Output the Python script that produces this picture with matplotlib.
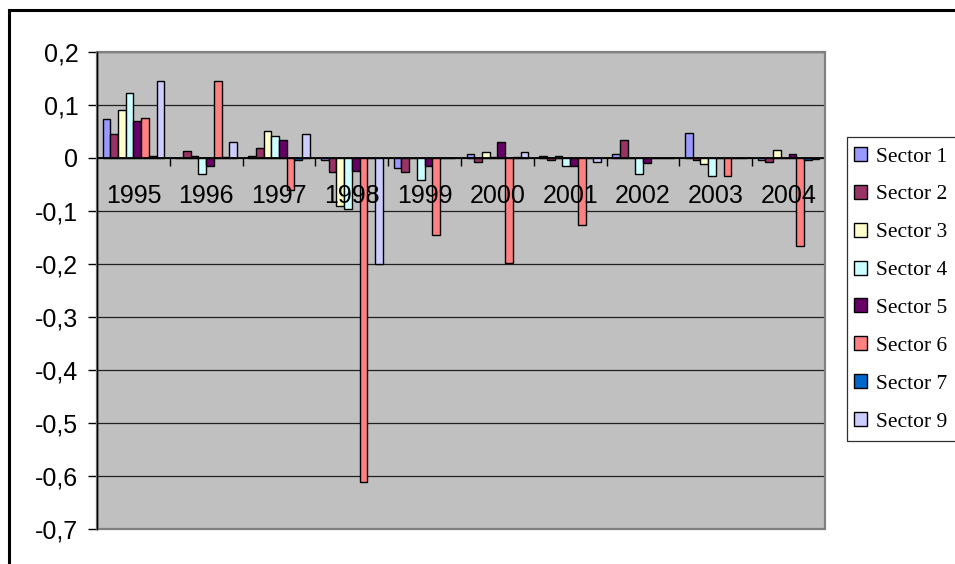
import matplotlib
matplotlib.use('Agg')
import matplotlib.pyplot as plt
import numpy as np
from matplotlib.patches import Rectangle
from matplotlib.font_manager import FontProperties

years = ['1995', '1996', '1997', '1998', '1999', '2000', '2001', '2002', '2003', '2004']
sector_names = ['Sector 1', 'Sector 2', 'Sector 3', 'Sector 4', 'Sector 5', 'Sector 6', 'Sector 7', 'Sector 9']

s1 = [0.073, 0.000, 0.004, -0.004, -0.019, 0.008, 0.004, 0.007, 0.048, -0.003]
s2 = [0.046, 0.013, 0.019, -0.026, -0.027, -0.008, -0.004, 0.034, -0.004, -0.008]
s3 = [0.091, 0.003, 0.050, -0.091, 0.000, 0.012, 0.004, 0.000, -0.011, 0.015]
s4 = [0.122, -0.031, 0.041, -0.096, -0.042, 0.002, -0.015, -0.031, -0.035, 0.000]
s5 = [0.069, -0.016, 0.034, -0.025, -0.015, 0.031, -0.015, -0.009, 0.000, 0.007]
s6 = [0.076, 0.145, -0.061, -0.611, -0.146, -0.199, -0.127, 0.000, -0.035, -0.167]
s7 = [0.004, 0.001, -0.003, 0.000, 0.000, 0.002, 0.000, 0.000, 0.000, -0.003]
s9 = [0.145, 0.031, 0.046, -0.200, 0.000, 0.012, -0.008, 0.000, 0.000, -0.002]

series = [s1, s2, s3, s4, s5, s6, s7, s9]
colors = ['#9999FF', '#993366', '#FFFFCC', '#CCFFFF', '#660066', '#FF8080', '#0066CC', '#CCCCFF']

yticks = [-0.7, -0.6, -0.5, -0.4, -0.3, -0.2, -0.1, 0.0, 0.1, 0.2]

W, H = 955, 564
fig = plt.figure(figsize=(W / 100, H / 100), dpi=100)
fig.patch.set_facecolor('white')

left, right, top, bottom = 97, 825, 52, 528.7
ax = fig.add_axes([left / W, 1 - bottom / H, (right - left) / W, (bottom - top) / H])
ax.set_facecolor('#C0C0C0')

x = np.arange(len(years))
bw = 0.106
handles = []
for j, (vals, c, name) in enumerate(zip(series, colors, sector_names)):
    b = ax.bar(x + (j - 3.5) * bw, vals, width=bw, color=c, edgecolor='black',
               linewidth=1.0, label=name, zorder=2)
    handles.append(b)

ax.set_xlim(-0.5, len(years) - 0.5)
ax.set_ylim(-0.7, 0.2)
ax.set_yticks(yticks)

def fmt(v):
    if abs(v) < 1e-9:
        return '0'
    return f'{v:.1f}'.replace('.', ',')

ax.set_yticklabels([fmt(v) for v in yticks], fontfamily='Liberation Sans', fontsize=18)
ax.yaxis.grid(True, color='#202020', linewidth=0.9, zorder=0)
ax.set_axisbelow(True)

for s in ['top', 'right']:
    ax.spines[s].set_visible(False)
ax.spines['left'].set_color('black')
ax.spines['left'].set_linewidth(1.0)
ax.spines['bottom'].set_position(('data', 0))
ax.spines['bottom'].set_color('black')
ax.spines['bottom'].set_linewidth(1.3)
ax.spines['bottom'].set_zorder(3)

ax.set_xticks(x)
ax.set_xticklabels(years, fontfamily='Liberation Sans', fontsize=18)
ax.set_xticks(np.arange(0.5, len(years) - 0.5, 1.0), minor=True)
ax.tick_params(axis='x', which='major', length=0, pad=19)
ax.tick_params(axis='x', which='minor', length=5.5, width=1.0, direction='out', color='black')
ax.tick_params(axis='y', which='major', length=6.5, width=1.0, direction='out', pad=7, color='black')
ax.xaxis.set_zorder(5)

# plot area border
ax.add_patch(Rectangle((0, 0), 1, 1, transform=ax.transAxes, fill=False,
                       edgecolor='#808080', linewidth=1.6, zorder=4, clip_on=False))
ax.plot([0, 0], [0, 1], transform=ax.transAxes, color='black', lw=1.0, zorder=5, clip_on=False)

# outer chart frame
fig.add_artist(Rectangle((9 / W, -0.05), 1.2, (1 - 10 / H) + 0.05, transform=fig.transFigure,
                         fill=False, edgecolor='black', linewidth=2.2))

# legend frame
fig.add_artist(Rectangle((846.7 / W, 1 - 440.7 / H), 0.3, (440.7 - 136.7) / H,
                         transform=fig.transFigure, fill=False, edgecolor='#303030', linewidth=0.9))

fig.legend(handles, sector_names, loc='upper left', bbox_to_anchor=(854 / W, 1 - 147 / H),
           frameon=False, prop=FontProperties(family='Liberation Serif', size=15.5),
           handlelength=0.62, handleheight=0.62, handletextpad=0.38,
           labelspacing=0.85, borderaxespad=0, borderpad=0)

fig.savefig('out.png', dpi=100)
